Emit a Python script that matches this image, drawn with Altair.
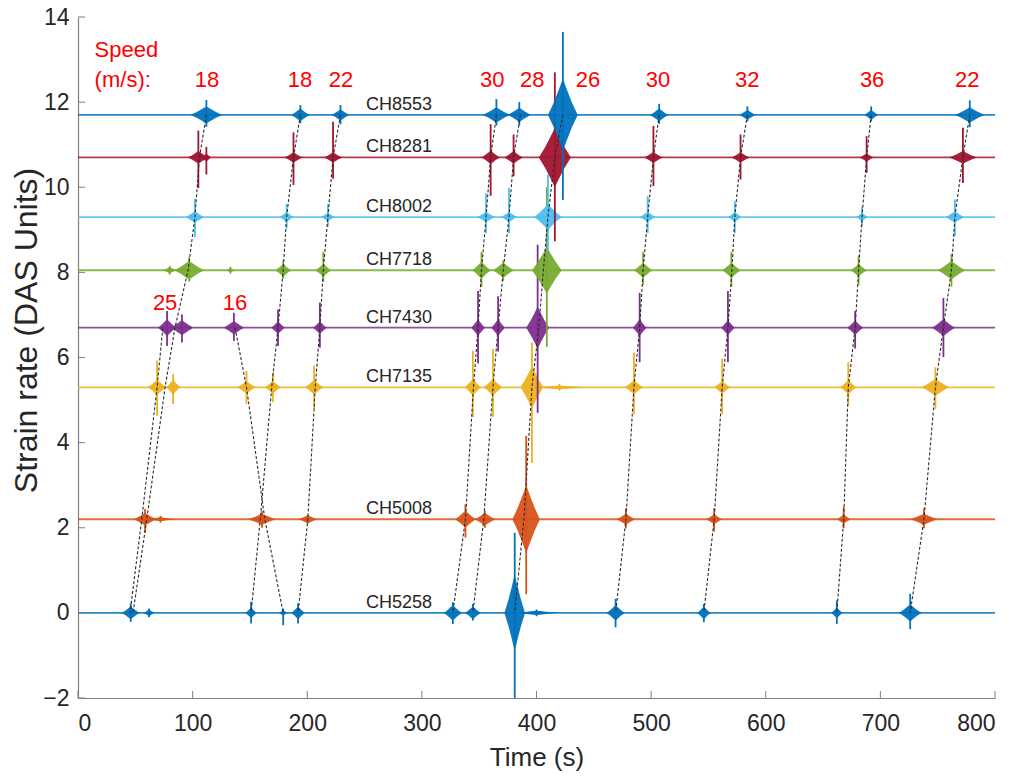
import altair as alt
import pandas as pd

FONT = "Liberation Sans"

# DAS channels, their vertical offsets in the stack and trace colours
CHANNELS = ["CH8553", "CH8281", "CH8002", "CH7718", "CH7430", "CH7135", "CH5008", "CH5258"]
OFFSETS = [11.7, 10.7, 9.3, 8.05, 6.7, 5.3, 2.2, 0.0]
COLORS = ["#0072BD", "#A2142F", "#4DBEEE", "#77AC30", "#7E2F8E", "#EDB120", "#D95319", "#0072BD"]

# vehicle bursts on each channel:
# (time s, peak above trace, peak below trace, half-duration s, body half-height)
BURSTS_CH8553 = [
    (112, 0.35, 0.28, 14, 0.20), (194, 0.23, 0.20, 8, 0.15), (229, 0.23, 0.22, 8, 0.13),
    (365, 0.37, 0.25, 12, 0.18), (385, 0.30, 0.25, 10, 0.17), (423, 1.95, 2.00, 13, 0.85),
    (507, 0.26, 0.21, 8, 0.15), (584, 0.20, 0.15, 7, 0.12), (692, 0.20, 0.15, 6, 0.12),
    (778, 0.34, 0.29, 13, 0.18),
]
BURSTS_CH8281 = [
    (105, 0.63, 0.72, 9, 0.15), (112, 0.25, 0.40, 4, 0.10), (188, 0.59, 0.65, 8, 0.12),
    (222.5, 0.84, 0.50, 8, 0.12), (360, 0.78, 0.90, 8, 0.16), (380, 0.54, 0.44, 8, 0.15),
    (416, 2.00, 1.97, 14, 0.70), (502, 0.74, 0.67, 8, 0.13), (578, 0.54, 0.52, 8, 0.12),
    (688, 0.50, 0.36, 6, 0.10), (772, 0.70, 0.60, 12, 0.15),
]
BURSTS_CH8002 = [
    (102, 0.43, 0.47, 8, 0.14), (182, 0.31, 0.27, 6, 0.12), (218, 0.30, 0.23, 6, 0.10),
    (356, 0.56, 0.38, 8, 0.12), (376, 0.68, 0.38, 7, 0.12), (410, 1.00, 0.80, 12, 0.30),
    (497, 0.49, 0.38, 7, 0.12), (573, 0.37, 0.38, 6, 0.12), (684, 0.25, 0.22, 5, 0.10),
    (765, 0.41, 0.45, 8, 0.14),
]
BURSTS_CH7718 = [
    (80, 0.10, 0.10, 6, 0.07), (97, 0.31, 0.27, 13, 0.22), (133, 0.08, 0.08, 4, 0.05),
    (179, 0.23, 0.20, 7, 0.15), (214, 0.43, 0.27, 7, 0.15), (352, 0.43, 0.39, 8, 0.20),
    (371, 0.23, 0.25, 9, 0.18), (409, 1.95, 1.80, 13, 0.55), (493, 0.43, 0.35, 8, 0.18),
    (570, 0.43, 0.39, 8, 0.18), (681, 0.35, 0.35, 7, 0.15), (762, 0.39, 0.39, 12, 0.22),
]
BURSTS_CH7430 = [
    (77.7, 0.39, 0.43, 8, 0.20), (90.7, 0.31, 0.35, 10, 0.18), (136, 0.35, 0.31, 9, 0.16),
    (174.5, 0.43, 0.43, 6, 0.15), (211, 0.59, 0.47, 6, 0.15), (349, 0.86, 0.84, 6, 0.20),
    (366.5, 0.74, 0.56, 6, 0.20), (401, 1.95, 2.00, 10, 0.50), (490, 0.82, 0.81, 6, 0.20),
    (567, 0.86, 0.81, 6, 0.18), (678, 0.39, 0.49, 7, 0.17), (755, 0.70, 0.69, 10, 0.20),
]
BURSTS_CH7135 = [
    (69, 0.63, 0.67, 8, 0.18), (83, 0.31, 0.39, 6, 0.18), (147, 0.39, 0.39, 8, 0.15),
    (170, 0.35, 0.35, 7, 0.15), (206, 0.51, 0.51, 8, 0.17), (344.5, 0.86, 0.70, 7, 0.20),
    (362, 0.90, 0.70, 8, 0.20), (396, 1.05, 1.78, 10, 0.50), (420, 0.08, 0.08, 24, 0.045),
    (485, 0.82, 0.63, 8, 0.17), (562, 0.67, 0.63, 7, 0.15), (672, 0.59, 0.43, 7, 0.17),
    (748, 0.47, 0.51, 12, 0.20),
]
BURSTS_CH5008 = [
    (58.5, 0.24, 0.31, 10, 0.15), (72, 0.08, 0.08, 12, 0.05), (160.5, 0.20, 0.20, 12, 0.13),
    (200.5, 0.10, 0.10, 8, 0.10), (338, 0.35, 0.43, 9, 0.20), (355, 0.20, 0.20, 9, 0.15),
    (391, 1.96, 1.76, 12, 0.80), (478, 0.26, 0.21, 8, 0.13), (555, 0.26, 0.29, 7, 0.12),
    (668, 0.30, 0.21, 6, 0.11), (738, 0.26, 0.21, 12, 0.13),
]
BURSTS_CH5258 = [
    (46, 0.22, 0.21, 8, 0.15), (62, 0.10, 0.10, 5, 0.08), (151, 0.26, 0.25, 5, 0.13),
    (179, 0.10, 0.29, 4, 0.06), (192, 0.22, 0.25, 6, 0.15), (327, 0.25, 0.26, 8, 0.18),
    (344.5, 0.21, 0.18, 7, 0.15), (381, 1.88, 2.00, 9, 0.90), (400, 0.08, 0.08, 20, 0.05),
    (469, 0.33, 0.34, 8, 0.18), (546, 0.21, 0.22, 6, 0.15), (662, 0.29, 0.26, 5, 0.13),
    (726, 0.45, 0.38, 10, 0.20),
]
BURSTS = [BURSTS_CH8553, BURSTS_CH8281, BURSTS_CH8002, BURSTS_CH7718,
          BURSTS_CH7430, BURSTS_CH7135, BURSTS_CH5008, BURSTS_CH5258]

# outline of a burst body: (fraction of half-duration, fraction of body height)
SPINDLE = [(-1.0, 0.0), (-0.6, 0.35), (-0.25, 0.72), (0.0, 1.0),
           (0.25, 0.72), (0.6, 0.35), (1.0, 0.0)]

# picked arrival times (s) of each vehicle, channel by channel from CH8553 down to CH5258
MOVEOUT_FULL = {
    "v1": [112, 106, 102, 96, 84.6, 76, 60, 48],
    "v2": [194, 188, 182, 179, 174.5, 169, 159, 151],
    "v3": [229, 222.5, 218, 214, 211, 207, 200.5, 192],
    "v4": [365, 360, 356, 352, 349, 345, 338, 327],
    "v5": [386, 380, 376, 371, 366.5, 362, 354, 344.5],
    "v6": [423, 416, 410, 406, 402, 396, 389, 381],
    "v7": [507, 502, 497, 493, 490, 485, 478, 469],
    "v8": [584, 578, 573, 570.5, 567, 562, 555, 546],
    "v9": [692, 688, 684, 681, 678, 672, 668, 662],
    "v10": [778, 772, 765, 762, 755, 748, 738, 726],
}
# vehicles seen only from CH7430 down to CH5258
MOVEOUT_LOWER = {
    "v11": [74, 69, 55.6, 45.4],
    "v12": [137, 147, 163, 179],
}

# speed annotations (m/s)
SPEED_TOP = ["18", "18", "22", "30", "28", "26", "30", "32", "36", "22"]
SPEED_TOP_T = [112.6, 193.7, 229.5, 361.3, 396.2, 445, 506, 583.8, 692.8, 775.7]
SPEED_TOP_Y = 12.52
SPEED_LOW = ["25", "16"]
SPEED_LOW_T = [76, 137]
SPEED_LOW_Y = 7.28

X_TICKS = [0, 100, 200, 300, 400, 500, 600, 700, 800]
Y_TICKS = [-2, 0, 2, 4, 6, 8, 10, 12, 14]

W, H = 917, 681
XS = alt.Scale(domain=[0, 800], nice=False, zero=False)
YS = alt.Scale(domain=[-2, 14], nice=False, zero=False)


def xq(field, **kw):
    return alt.X(field, type="quantitative", scale=XS, **kw)


def yq(field, **kw):
    return alt.Y(field, type="quantitative", scale=YS, **kw)


layers = []

# axes first, so their definition is the one kept for the shared scales
axes = pd.DataFrame({"t": [0, 800], "y": [-2, 14]})
layers.append(
    alt.Chart(axes).mark_point(opacity=0).encode(
        x=alt.X("t:Q", scale=XS, axis=alt.Axis(
            values=X_TICKS, title="Time (s)", ticks=False, labelPadding=14,
            titleY=59, titleBaseline="middle", titleFontSize=26)),
        y=alt.Y("y:Q", scale=YS, axis=alt.Axis(
            values=Y_TICKS, title="Strain rate (DAS Units)", ticks=False, labelPadding=9,
            titleX=-52, titleY=313, titleBaseline="middle", titleAlign="center",
            titleFontSize=32)),
    )
)

# traces, drawn bottom channel first so upper channels sit on top
for k in reversed(range(len(CHANNELS))):
    name, base, col = CHANNELS[k], OFFSETS[k], COLORS[k]
    trace = pd.DataFrame({"x0": [0], "x1": [800], "y": [base]})
    layers.append(
        alt.Chart(trace).mark_rule(color=col, strokeWidth=1.8, opacity=0.85)
        .encode(x=xq("x0"), x2="x1", y=yq("y"))
    )
    body_rows, spike_rows = [], []
    for i, (t, up, down, w, h) in enumerate(BURSTS[k]):
        bid = f"{name}_{i:02d}"
        for fx, fy in SPINDLE:
            body_rows.append({"id": bid, "t": t + fx * w,
                              "y": base + fy * h, "y2": base - fy * h})
        spike_rows.append({"t": t, "top": base + up, "bot": max(base - down, -2)})
    layers.append(
        alt.Chart(pd.DataFrame(body_rows)).mark_area(color=col, opacity=0.95)
        .encode(x=xq("t"), y=yq("y"), y2="y2", detail="id:N")
    )
    layers.append(
        alt.Chart(pd.DataFrame(spike_rows)).mark_rule(color=col, strokeWidth=1.8)
        .encode(x=xq("t"), y=yq("top"), y2="bot")
    )

# dashed moveout lines linking each vehicle across channels
move_rows = []
for ev, times in MOVEOUT_FULL.items():
    for j, t in enumerate(times):
        move_rows.append({"ev": ev, "t": t, "y": OFFSETS[j], "k": j})
for ev, times in MOVEOUT_LOWER.items():
    for j, t in enumerate(times):
        move_rows.append({"ev": ev, "t": t, "y": OFFSETS[4 + j], "k": j})
layers.append(
    alt.Chart(pd.DataFrame(move_rows))
    .mark_line(color="#2b2b2b", strokeWidth=1.1, strokeDash=[3, 2])
    .encode(x=xq("t"), y=yq("y"), detail="ev:N", order="k:Q")
)

# channel names
labels = pd.DataFrame({"t": [280] * len(CHANNELS), "y": OFFSETS, "name": CHANNELS})
layers.append(
    alt.Chart(labels).mark_text(font=FONT, fontSize=18, color="#262626", dy=-10, baseline="middle")
    .encode(x=xq("t"), y=yq("y"), text="name:N")
)

# speed annotations
speed = pd.DataFrame({
    "t": SPEED_TOP_T + SPEED_LOW_T,
    "y": [SPEED_TOP_Y] * len(SPEED_TOP) + [SPEED_LOW_Y] * len(SPEED_LOW),
    "s": SPEED_TOP + SPEED_LOW,
})
layers.append(
    alt.Chart(speed).mark_text(font=FONT, fontSize=22, color="#FF0000", baseline="middle")
    .encode(x=xq("t"), y=yq("y"), text="s:N")
)
head = pd.DataFrame({"t": [14.5, 14.5], "y": [13.22, SPEED_TOP_Y], "s": ["Speed", "(m/s):"]})
layers.append(
    alt.Chart(head).mark_text(font=FONT, fontSize=22, color="#FF0000", align="left", baseline="middle")
    .encode(x=xq("t"), y=yq("y"), text="s:N")
)

# inward tick marks
xt = pd.DataFrame({"t": X_TICKS})
layers.append(
    alt.Chart(xt).mark_rule(color="#7f7f7f", strokeWidth=1)
    .encode(x=xq("t"), y=alt.value(H), y2=alt.value(H - 7))
)
yt = pd.DataFrame({"y": Y_TICKS})
layers.append(
    alt.Chart(yt).mark_rule(color="#7f7f7f", strokeWidth=1)
    .encode(y=yq("y"), x=alt.value(0), x2=alt.value(7))
)

chart = (
    alt.layer(*layers)
    .properties(width=W, height=H, autosize=alt.AutoSizeParams(type="none"),
                padding={"left": 78, "top": 17, "right": 26, "bottom": 78})
    .configure_view(stroke=None)
    .configure_axis(labelFont=FONT, titleFont=FONT, labelFontSize=23,
                    labelColor="#262626", titleColor="#262626", titleFontWeight="normal",
                    domainColor="#7f7f7f", domainWidth=1.2, grid=False)
)

chart.save("out.html", embed_options={"renderer": "svg", "actions": False})
